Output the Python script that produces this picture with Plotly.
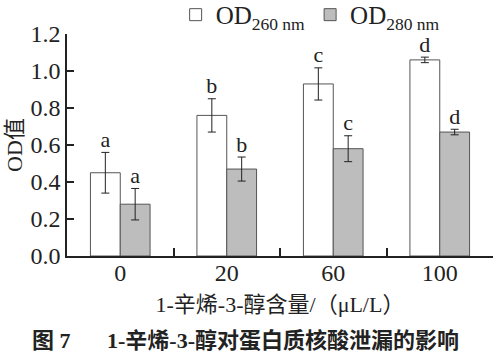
import plotly.graph_objects as go

categories = ["0", "20", "60", "100"]
od260 = [0.45, 0.76, 0.93, 1.06]
od260_err = [0.11, 0.09, 0.087, 0.015]
od280 = [0.28, 0.47, 0.58, 0.67]
od280_err = [0.085, 0.065, 0.07, 0.015]
letters260 = ["a", "b", "c", "d"]
letters280 = ["a", "b", "c", "d"]

pos = list(range(len(categories)))
bounds = [p + 0.5 for p in pos]
half = 0.14
serif = "Liberation Serif, Times New Roman, serif"
cjk = "Liberation Serif, Noto Sans CJK SC, serif"

fig = go.Figure()
fig.add_trace(go.Bar(
    x=pos, y=od260, name="OD<sub>260 nm</sub>",
    marker=dict(color="white", line=dict(color="#555555", width=1)),
    error_y=dict(type="data", array=od260_err, color="#222222", thickness=1, width=4),
    width=2 * half, offset=-2 * half,
))
fig.add_trace(go.Bar(
    x=pos, y=od280, name="OD<sub>280 nm</sub>",
    marker=dict(color="#bdbdbd", line=dict(color="#555555", width=1)),
    error_y=dict(type="data", array=od280_err, color="#222222", thickness=1, width=4),
    width=2 * half, offset=0,
))
fig.add_trace(go.Scatter(
    x=[p - half for p in pos], y=[v + e for v, e in zip(od260, od260_err)],
    text=letters260, mode="text", textposition="top center", xaxis="x2",
    textfont=dict(family=serif, size=22, color="#222222"), showlegend=False,
))
fig.add_trace(go.Scatter(
    x=[p + half for p in pos], y=[v + e for v, e in zip(od280, od280_err)],
    text=letters280, mode="text", textposition="top center", xaxis="x2",
    textfont=dict(family=serif, size=22, color="#222222"), showlegend=False,
))

fig.update_layout(
    width=499, height=354,
    margin=dict(l=67, r=6, t=34, b=98, autoexpand=False),
    plot_bgcolor="white", paper_bgcolor="white",
    font=dict(family=serif, size=24, color="#222222"),
    barmode="overlay",
    showlegend=True,
    legend=dict(orientation="h", x=0.255, xref="paper", y=1.086, yanchor="middle",
                xanchor="left", yref="paper", itemwidth=30,
                font=dict(family=serif, size=25), bgcolor="rgba(0,0,0,0)",
                tracegroupgap=0, traceorder="normal"),
    xaxis=dict(range=[-0.5, 3.5], tickvals=bounds, showticklabels=False,
               showline=True, linecolor="#222222", linewidth=1.5,
               ticks="inside", ticklen=8, tickwidth=1.5, tickcolor="#222222",
               showgrid=False, zeroline=False,
               title=dict(text="1-辛烯-3-醇含量/（μL/L）", font=dict(family=cjk, size=22), standoff=40)),
    xaxis2=dict(range=[-0.5, 3.5], overlaying="x", anchor="y", side="bottom",
                tickvals=pos, ticktext=categories, ticks="", showline=False,
                showgrid=False, zeroline=False, tickfont=dict(size=24)),
    yaxis=dict(range=[0, 1.2], tickvals=[0, 0.2, 0.4, 0.6, 0.8, 1.0, 1.2],
               tickformat=".1f", ticks="inside", ticklen=7, tickwidth=1.5, tickcolor="#222222",
               showline=True, linecolor="#222222", linewidth=1.5,
               showgrid=False, zeroline=False,
               title=dict(text="OD值", font=dict(family=cjk, size=22), standoff=2),
               tickfont=dict(size=24)),
    annotations=[
        dict(text="<b>图 7</b>", x=-0.087, xref="paper", y=-0.38, yref="paper",
             yanchor="middle", xanchor="left", showarrow=False,
             font=dict(family=cjk, size=22, color="#222222")),
        dict(text="<b>1-辛烯-3-醇对蛋白质核酸泄漏的影响</b>", x=0.089, xref="paper",
             y=-0.38, yref="paper", yanchor="middle", xanchor="left", showarrow=False,
             font=dict(family=cjk, size=22, color="#222222")),
    ],
)

fig.write_html("out.html")
